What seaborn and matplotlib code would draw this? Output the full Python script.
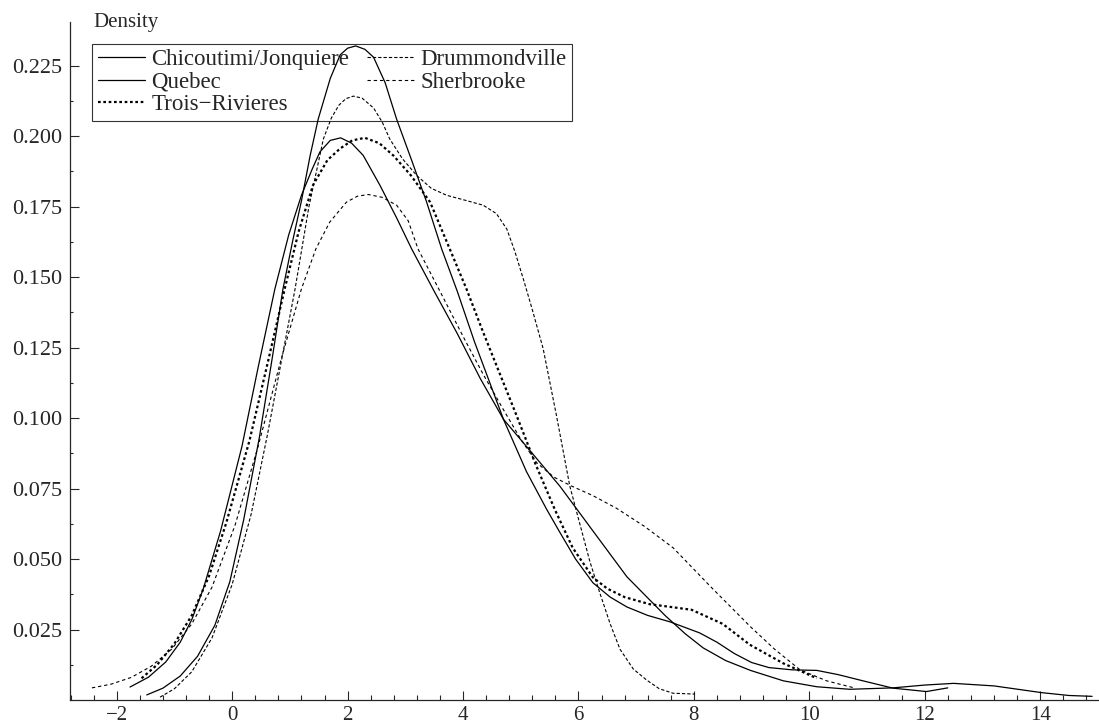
import matplotlib
matplotlib.use("Agg")
import matplotlib.pyplot as plt
from matplotlib.ticker import FixedLocator, MultipleLocator
import seaborn as sns

# ── Density curves (x, density) ──────────────────────────────────────────────
chic_x = [-1.48, -1.20, -0.90, -0.60, -0.30, -0.04, 0.20, 0.47, 0.70, 0.88, 1.05,
          1.20, 1.35, 1.49, 1.70, 1.87, 2.00, 2.14, 2.30, 2.45, 2.65, 2.85, 3.10,
          3.37, 3.63, 3.90, 4.20, 4.70, 5.10, 5.45, 5.68, 5.95, 6.25, 6.55, 6.84,
          7.20, 7.59, 8.10, 8.40, 8.70, 9.00, 9.30, 9.70, 10.13, 10.50, 10.93,
          11.45, 12.03, 12.40]
chic_d = [0.0018, 0.0042, 0.0085, 0.0155, 0.0265, 0.0420, 0.0640, 0.0930, 0.1220,
          0.1458, 0.1630, 0.1770, 0.1930, 0.2060, 0.2205, 0.2288, 0.2312, 0.2320,
          0.2308, 0.2280, 0.2190, 0.2060, 0.1920, 0.1766, 0.1600, 0.1450, 0.1270,
          0.0996, 0.0810, 0.0676, 0.0594, 0.0500, 0.0416, 0.0365, 0.0330, 0.0300,
          0.0277, 0.0238, 0.0205, 0.0165, 0.0133, 0.0115, 0.0107, 0.0105, 0.0090,
          0.0068, 0.0042, 0.0030, 0.0043]

queb_x = [-1.77, -1.45, -1.15, -0.90, -0.70, -0.50, -0.20, 0.17, 0.45, 0.74, 0.98,
          1.20, 1.38, 1.52, 1.70, 1.88, 2.07, 2.27, 2.56, 2.85, 3.11, 3.50, 3.90,
          4.30, 4.70, 5.20, 5.68, 6.25, 6.84, 7.50, 7.85, 8.16, 8.55, 8.98, 9.55,
          10.13, 10.70, 11.45, 12.00, 12.50, 13.20, 14.03, 14.50, 14.90]
queb_d = [0.0046, 0.0081, 0.0135, 0.0205, 0.0285, 0.0395, 0.0600, 0.0900, 0.1180,
          0.1458, 0.1650, 0.1790, 0.1880, 0.1944, 0.1985, 0.1994, 0.1975, 0.1932,
          0.1826, 0.1710, 0.1600, 0.1450, 0.1300, 0.1140, 0.0996, 0.0875, 0.0758,
          0.0600, 0.0437, 0.0300, 0.0235, 0.0185, 0.0140, 0.0105, 0.0068, 0.0047,
          0.0038, 0.0043, 0.0053, 0.0059, 0.0050, 0.0026, 0.0016, 0.0013]

troi_x = [-1.57, -1.30, -1.00, -0.70, -0.40, -0.10, 0.30, 0.62, 0.91, 1.15, 1.40,
          1.65, 1.87, 2.08, 2.30, 2.55, 2.80, 3.10, 3.43, 3.77, 4.06, 4.35, 4.93,
          5.25, 5.59, 5.90, 6.25, 6.50, 6.80, 7.23, 7.60, 7.96, 8.50, 8.97, 9.55,
          10.13]
troi_d = [0.0077, 0.0125, 0.0200, 0.0300, 0.0440, 0.0630, 0.0920, 0.1200, 0.1458,
          0.1660, 0.1826, 0.1915, 0.1956, 0.1985, 0.1994, 0.1975, 0.1930, 0.1860,
          0.1766, 0.1600, 0.1458, 0.1304, 0.1008, 0.0840, 0.0676, 0.0540, 0.0435,
          0.0395, 0.0365, 0.0340, 0.0330, 0.0320, 0.0270, 0.0196, 0.0130, 0.0077]

drum_x = [-1.25, -1.00, -0.70, -0.35, 0.00, 0.33, 0.61, 0.86, 1.09, 1.33, 1.58,
          1.72, 1.85, 1.97, 2.10, 2.25, 2.45, 2.60, 2.73, 2.95, 3.20, 3.45, 3.72,
          4.05, 4.35, 4.58, 4.76, 4.90, 5.05, 5.20, 5.39, 5.62, 5.85, 6.03, 6.20,
          6.37, 6.55, 6.72, 6.95, 7.18, 7.40, 7.64, 8.02]
drum_d = [0.0010, 0.0040, 0.0100, 0.0220, 0.0410, 0.0660, 0.0940, 0.1210, 0.1458,
          0.1750, 0.1990, 0.2065, 0.2110, 0.2133, 0.2142, 0.2135, 0.2100, 0.2050,
          0.1990, 0.1920, 0.1860, 0.1815, 0.1790, 0.1772, 0.1755, 0.1725, 0.1670,
          0.1590, 0.1490, 0.1385, 0.1245, 0.1008, 0.0759, 0.0620, 0.0490, 0.0380,
          0.0270, 0.0180, 0.0110, 0.0071, 0.0040, 0.0024, 0.0021]

sher_x = [-2.43, -2.10, -1.75, -1.40, -1.05, -0.70, -0.35, 0.05, 0.45, 0.85, 1.20,
          1.45, 1.69, 1.98, 2.17, 2.36, 2.60, 2.85, 3.05, 3.22, 3.60, 4.00, 4.35,
          4.70, 5.00, 5.28, 5.58, 5.88, 6.25, 6.66, 7.15, 7.64, 8.30, 8.98, 9.40,
          9.84, 10.30, 10.76]
sher_d = [0.0043, 0.0056, 0.0080, 0.0120, 0.0180, 0.0270, 0.0400, 0.0620, 0.0900,
          0.1210, 0.1458, 0.1600, 0.1695, 0.1766, 0.1787, 0.1793, 0.1783, 0.1755,
          0.1700, 0.1600, 0.1450, 0.1290, 0.1155, 0.1030, 0.0925, 0.0841, 0.0790,
          0.0759, 0.0725, 0.0680, 0.0615, 0.0540, 0.0400, 0.0260, 0.0180, 0.0107,
          0.0068, 0.0044]

cities = ["Chicoutimi/Jonquiere", "Quebec", "Trois\u2212Rivieres",
          "Drummondville", "Sherbrooke"]
curves = [(chic_x, chic_d), (queb_x, queb_d), (troi_x, troi_d),
          (drum_x, drum_d), (sher_x, sher_d)]
styles = [
    dict(linestyle="-", lw=0.9),
    dict(linestyle="-", lw=0.9),
    dict(linestyle=(0, (1.2, 1.2)), lw=1.6),
    dict(linestyle=(0, (3.0, 1.8)), lw=0.8),
    dict(linestyle=(0, (3.0, 2.6)), lw=0.8),
]

y_major = [0.025, 0.05, 0.075, 0.1, 0.125, 0.15, 0.175, 0.2, 0.225]
y_minor = [0.0125, 0.0375, 0.0625, 0.0875, 0.1125, 0.1375, 0.1625, 0.1875, 0.2125]
x_major = [-2, 0, 2, 4, 6, 8, 10, 12, 14]

# ── Plot ──────────────────────────────────────────────────────────────────────
sns.set_style("ticks")
plt.rcParams["font.family"] = ["Liberation Serif", "DejaVu Serif"]

fig = plt.figure(figsize=(10.99, 7.27), dpi=100)
ax = fig.add_axes([70 / 1099, 27 / 727, 1029 / 1099, 678.3 / 727])

for name, (xs, ds), st in zip(cities, curves, styles):
    sns.lineplot(x=xs, y=ds, ax=ax, color="black", label=name,
                 linestyle=st["linestyle"], lw=st["lw"])

ax.set_xlim(-2.81, 15.02)
ax.set_ylim(0, 0.2406)
ax.xaxis.set_major_locator(FixedLocator(x_major))
ax.xaxis.set_minor_locator(MultipleLocator(0.4))
ax.yaxis.set_major_locator(FixedLocator(y_major))
ax.yaxis.set_minor_locator(FixedLocator(y_minor))
ax.set_xticklabels([f"{v:d}".replace("-", "\u2212") for v in x_major])
ax.set_yticklabels([f"{v:.3f}" for v in y_major])

ax.tick_params(which="both", direction="in", width=0.8)
ax.tick_params(axis="x", which="major", length=6.7, pad=4, labelsize=15)
ax.tick_params(axis="x", which="minor", length=3.6)
ax.tick_params(axis="y", which="major", length=6.7, pad=5.5, labelsize=16)
ax.tick_params(axis="y", which="minor", length=2.5)

for side in ["top", "right"]:
    ax.spines[side].set_visible(False)
for side in ["left", "bottom"]:
    ax.spines[side].set_linewidth(0.9)

ax.set_xlabel("")
ax.set_ylabel("")
fig.text(93 / 1099, 1 - 27 / 727, "Density", fontsize=15, va="baseline", ha="left")

leg = ax.legend(loc="upper left", bbox_to_anchor=(22 / 1029, 1 - 22 / 678.3),
                borderaxespad=0, ncol=2, frameon=True, fancybox=False,
                edgecolor="black", facecolor="none", framealpha=None,
                fontsize=16.5, handlelength=2.05, handletextpad=0.3,
                columnspacing=0.75, labelspacing=0.05, borderpad=0.25)
leg.get_frame().set_linewidth(0.8)
leg.set_zorder(1)

fig.savefig("out.png", dpi=100)
plt.close(fig)
